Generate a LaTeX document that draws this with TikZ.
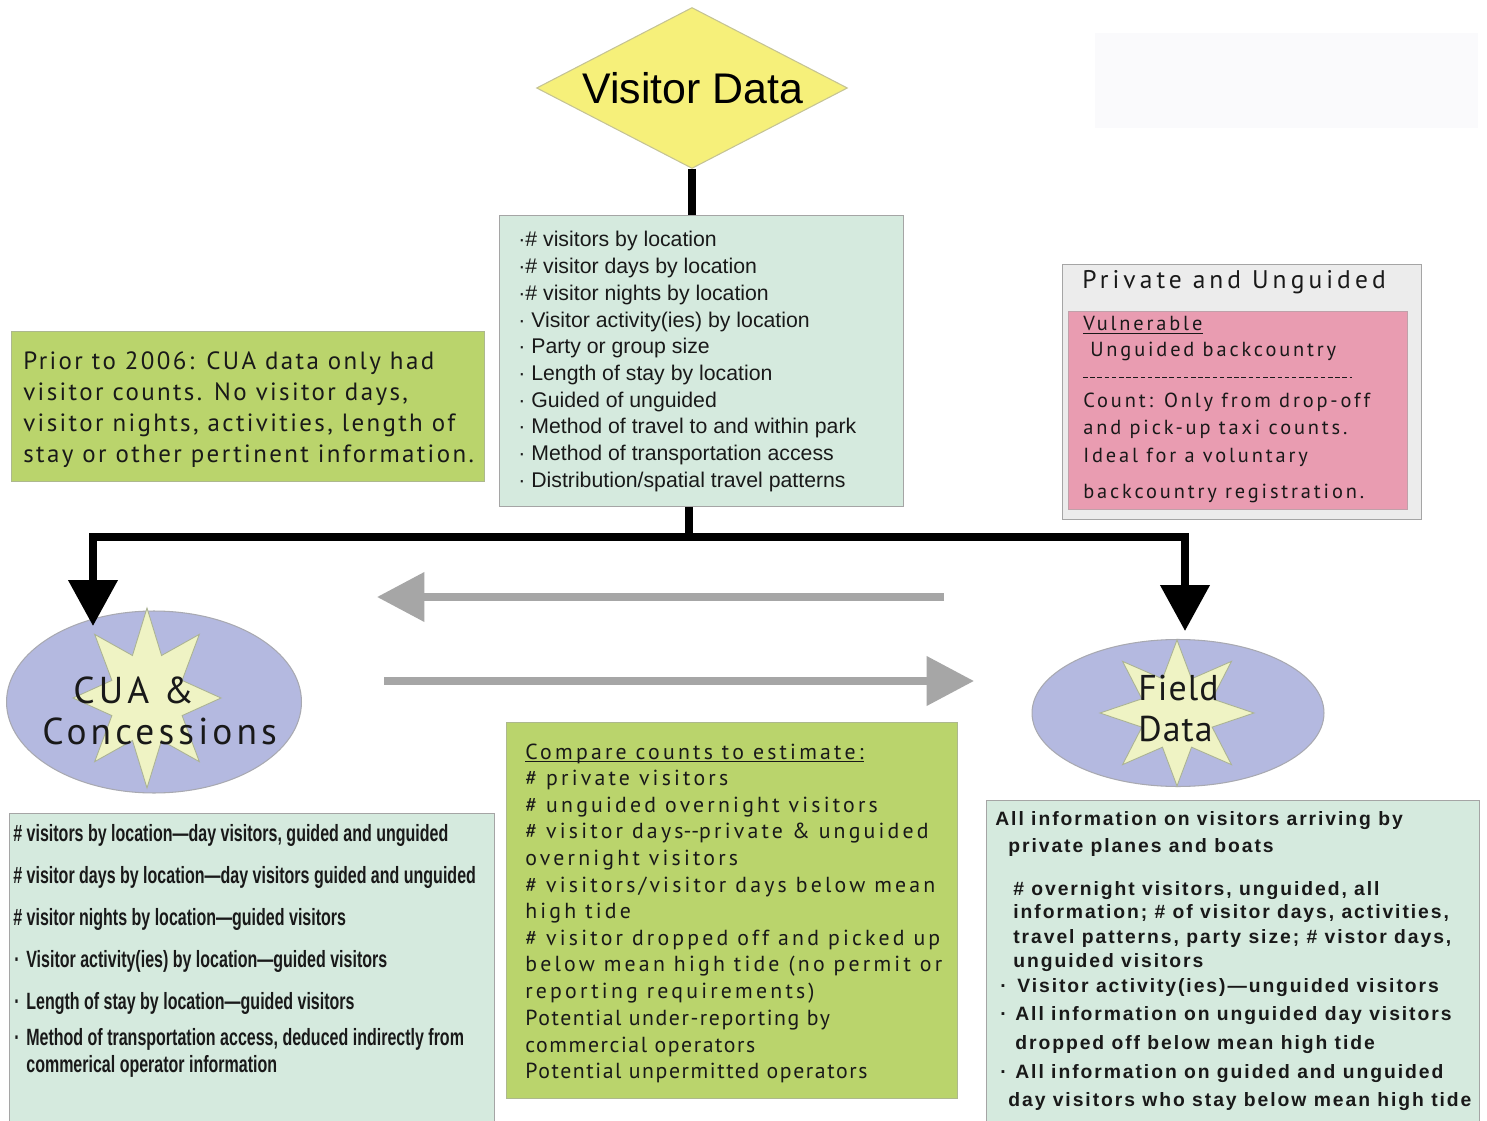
\documentclass[tikz,border=0pt]{standalone}
\usepackage{fontspec}
\setmainfont{Liberation Sans}
\newfontfamily\humfont{PT Sans}
\newfontfamily\narrowbold[FakeStretch=0.68]{Liberation Sans Bold}
\newfontfamily\widebold[LetterSpace=10]{Liberation Sans Bold}
\usetikzlibrary{shapes.geometric, arrows.meta}

\definecolor{vdyellow}{RGB}{246,240,122}
\definecolor{mint}{RGB}{213,234,222}
\definecolor{olive}{RGB}{186,212,108}
\definecolor{pinkbox}{RGB}{233,156,177}
\definecolor{panelgray}{RGB}{236,236,236}
\definecolor{lav}{RGB}{180,185,224}
\definecolor{starfill}{RGB}{239,243,196}
\definecolor{arrowgray}{RGB}{166,166,166}
\definecolor{edgegray}{RGB}{165,165,165}
\definecolor{inktext}{RGB}{25,25,25}

% humanist text with tracking: size in pt, letter spacing in percent of em
\newcommand\humset[2]{\humfont\addfontfeature{LetterSpace=#2}\fontsize{#1}{#1}\selectfont}

\begin{document}
\begin{tikzpicture}[x=0.02cm, y=-0.02cm,
  panel/.style={draw=edgegray, line width=0.6pt, inner sep=0pt, anchor=north west},
  txt/.style={anchor=base west, inner sep=0pt, text=inktext},
  conn/.style={line width=4.3pt, black},
  bigtip/.style={-{Triangle[width=0.96cm, length=0.92cm]}},
  grayarrow/.style={line width=4.4pt, arrowgray, -{Triangle[width=0.96cm, length=0.95cm]}},
  starstyle/.style={fill=starfill, draw=edgegray!70!olive, line width=0.5pt},
  ovalstyle/.style={ellipse, fill=lav, draw=edgegray!80!lav, line width=0.6pt, inner sep=0pt},
  toptxt/.style={txt, font=\fontsize{12.1}{14}\selectfont},
  priortxt/.style={txt, font=\humset{14.2}{9.5}},
  midtxt/.style={txt, font=\humset{12.4}{14.7}},
  midplain/.style={txt, font=\humset{12.4}{7.2}},
  pinktxt/.style={txt, font=\humset{11.6}{14}},
  pinktitle/.style={txt, font=\humset{14.5}{16}},
  ovaltxt/.style={txt, font=\humset{21.3}{11}},
  lefttxt/.style={txt, font=\narrowbold\fontsize{13.4}{14}\selectfont},
  righttxt/.style={txt, font=\widebold\fontsize{11}{12}\selectfont},
]
\useasboundingbox (0,0) rectangle (1487,1121);
\fill[white] (0,0) rectangle (1487,1121);
\fill[fill={rgb,255:red,250;green,250;blue,252}] (1095,33) rectangle (1478,128);

% ---------- title diamond ----------
\node[diamond, aspect=1.93, inner sep=0pt, minimum width=6.22cm, minimum height=3.22cm,
      fill=vdyellow, draw=edgegray!60!vdyellow, line width=0.6pt] (vd) at (692,88) {};
\node[inner sep=0pt, font=\fontsize{24.4}{28}\selectfont] (vdtext) at (693,88) {Visitor Data};

% ---------- data items box ----------
\node[panel, fill=mint, minimum width=8.08cm, minimum height=5.82cm] (vars) at (499,215) {};
\foreach \t [count=\i] in {
  {·\# visitors by location},
  {·\# visitor days by location},
  {·\# visitor nights by location},
  {· Visitor activity(ies) by location},
  {· Party or group size},
  {· Length of stay by location},
  {· Guided of unguided},
  {· Method of travel to and within park},
  {· Method of transportation access},
  {· Distribution/spatial travel patterns}}
  \node[toptxt] (vars-\i) at (518,{247+26.67*(\i-1)}) {\t};

% ---------- note box ----------
\node[panel, fill=olive, draw=edgegray!60!olive, minimum width=9.46cm, minimum height=3.0cm] (prior) at (11,331) {};
\foreach \t [count=\i] in {
  {Prior to 2006: CUA data only had},
  {visitor counts. No visitor days,},
  {visitor nights, activities, length of},
  {stay or other pertinent information.}}
  \node[priortxt] (prior-\i) at (23,{370+30.7*(\i-1)}) {\t};

% ---------- private and unguided panel ----------
\node[panel, fill=panelgray, minimum width=7.18cm, minimum height=5.10cm] (priv) at (1062,264) {};
\node[pinktitle] (privtitle) at (1082,289) {Private and Unguided};
\node[panel, fill=pinkbox, draw=edgegray!60!pinkbox, minimum width=6.78cm, minimum height=3.96cm] (vuln) at (1068,311) {};
\node[pinktxt] (vuln-1) at (1083,331) {Vulnerable};
\draw[inktext, line width=0.6pt] ([yshift=-1.3pt]vuln-1.base west) -- ([yshift=-1.3pt]vuln-1.base east);
\node[pinktxt] (vuln-2) at (1090,357) {Unguided backcountry};
\draw[inktext, line width=0.5pt, dash pattern=on 2.6pt off 1.5pt] (1083,377) -- (1352,377);
\node[pinktxt] (vuln-3) at (1083,408) {Count: Only from drop-off};
\node[pinktxt] (vuln-4) at (1083,435) {and pick-up taxi counts.};
\node[pinktxt] (vuln-5) at (1083,462) {Ideal for a voluntary};
\node[pinktxt] (vuln-6) at (1083,499) {backcountry registration.};

% ---------- the two data sources ----------
\node[ovalstyle, minimum width=5.9cm, minimum height=3.64cm] (cua) at (154,702) {};
\draw[starstyle] plot[samples at={0,22.5,...,337.5}, variable=\a]
  ({147+ifthenelse(mod(\a,45)==0,74,38)*cos(\a)}, {698-ifthenelse(mod(\a,45)==0,90,46)*sin(\a)}) -- cycle;
\node[ovaltxt] (cua-1) at (73,703) {CUA \&};
\node[ovaltxt] (cua-2) at (42,744) {Concessions};

\node[ovalstyle, minimum width=5.84cm, minimum height=2.94cm] (field) at (1178,713) {};
\draw[starstyle] plot[samples at={0,22.5,...,337.5}, variable=\a]
  ({1177+ifthenelse(mod(\a,45)==0,77,38)*cos(\a)}, {713-ifthenelse(mod(\a,45)==0,73,37)*sin(\a)}) -- cycle;
\node[txt, font=\humset{20.4}{3}] (field-1) at (1138,700) {Field};
\node[txt, font=\humset{20.4}{3}] (field-2) at (1138,741) {Data};

% ---------- black connectors ----------
\coordinate (split) at (689,537);
\coordinate (cuatip) at (93,626);
\coordinate (fieldtip) at (1185,631);
\draw[conn] (vd.south) -- (vd.south |- vars.north);
\draw[conn] (split |- vars.south) -- (split);
\draw[conn, bigtip, line join=miter] (split) -| (cuatip);
\draw[conn, bigtip, line join=miter] (split) -| (fieldtip);

% ---------- exchange arrows between the sources ----------
\coordinate (back-from) at (944,597);
\coordinate (back-to) at (377,597);
\coordinate (fwd-from) at (384,681);
\coordinate (fwd-to) at (974,681);
\draw[grayarrow] (back-from) -- (back-to);
\draw[grayarrow] (fwd-from) -- (fwd-to);

% ---------- CUA details box ----------
\node[panel, fill=mint, minimum width=9.70cm, minimum height=6.30cm] (cuabox) at (9,813) {};
\node[lefttxt] (cl-1) at (13,841) {\# visitors by location—day visitors, guided and unguided};
\node[lefttxt] (cl-2) at (13,883) {\# visitor days by location—day visitors guided and unguided};
\node[lefttxt] (cl-3) at (13,925) {\# visitor nights by location—guided visitors};
\node[lefttxt] (cb-4) at (14,967) {·};
\node[lefttxt] (cl-4) at (26,967) {Visitor activity(ies) by location—guided visitors};
\node[lefttxt] (cb-5) at (14,1009) {·};
\node[lefttxt] (cl-5) at (26,1009) {Length of stay by location—guided visitors};
\node[lefttxt] (cb-6) at (14,1045) {·};
\node[lefttxt] (cl-6) at (26,1045) {Method of transportation access, deduced indirectly from};
\node[lefttxt] (cl-7) at (26,1072) {commerical operator information};

% ---------- comparison box ----------
\node[panel, fill=olive, draw=edgegray!60!olive, minimum width=9.02cm, minimum height=7.52cm] (cmpbox) at (506,722) {};
\foreach \t [count=\i] in {
  {Compare counts to estimate:},
  {\# private visitors},
  {\# unguided overnight visitors},
  {\# visitor days\mbox{-}\mbox{-}private \& unguided},
  {overnight visitors},
  {\# visitors/visitor days below mean},
  {high tide},
  {\# visitor dropped off and picked up},
  {below mean high tide (no permit or},
  {reporting requirements)}}
  \node[midtxt] (cmp-\i) at (525,{759+26.6*(\i-1)}) {\t};
\node[midplain] (cmp-11) at (525,1025) {Potential under-reporting by};
\node[midplain] (cmp-12) at (525,1052) {commercial operators};
\node[midplain] (cmp-13) at (525,1078) {Potential unpermitted operators};
\draw[inktext, line width=0.6pt] ([yshift=-1.4pt]cmp-1.base west) -- ([yshift=-1.4pt]cmp-1.base east);

% ---------- field details box ----------
\node[panel, fill=mint, minimum width=9.86cm, minimum height=6.6cm] (fieldbox) at (986,800) {};
\node[righttxt] (fr-1) at (995,825) {All information on visitors arriving by};
\node[righttxt] (fr-2) at (1008,852) {private planes and boats};
\node[righttxt] (fr-3) at (1013,895) {\# overnight visitors, unguided, all};
\node[righttxt] (fr-4) at (1013,918) {information; \# of visitor days, activities,};
\node[righttxt] (fr-5) at (1013,943) {travel patterns, party size; \# vistor days,};
\node[righttxt] (fr-6) at (1013,967) {unguided visitors};
\node[righttxt] (fb-7) at (1000,992) {·};
\node[righttxt] (fr-7) at (1017,992) {Visitor activity(ies)—unguided visitors};
\node[righttxt] (fb-8) at (1000,1020) {·};
\node[righttxt] (fr-8) at (1015,1020) {All information on unguided day visitors};
\node[righttxt] (fr-9) at (1015,1049) {dropped off below mean high tide};
\node[righttxt] (fb-10) at (1000,1078) {·};
\node[righttxt] (fr-10) at (1015,1078) {All information on guided and unguided};
\node[righttxt] (fr-11) at (1008,1106) {day visitors who stay below mean high tide};
\end{tikzpicture}
\end{document}
